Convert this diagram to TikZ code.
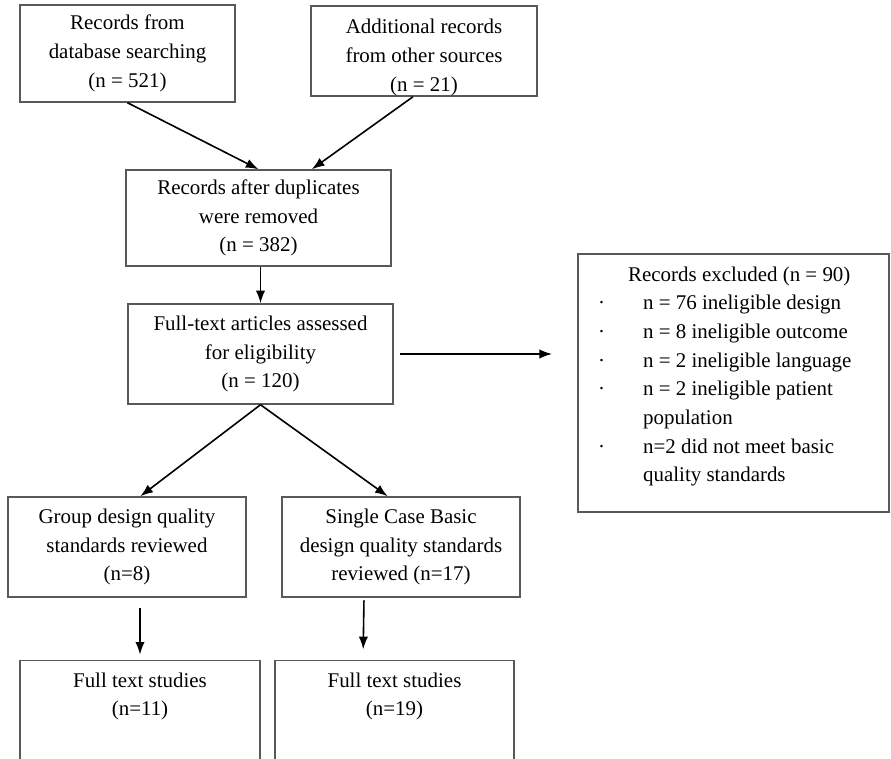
\documentclass[tikz,border=0pt]{standalone}
\usepackage{fontspec}
\setmainfont{Liberation Serif}
\usetikzlibrary{arrows.meta}
\newcommand{\exbul}{\makebox[33.75pt][l]{·}}
\newcommand{\exind}{\hspace*{33.75pt}}
\begin{document}
\begin{tikzpicture}[x=0.75pt,y=-0.75pt,
  box/.style={draw=black!65, line width=1.1pt, align=center, inner sep=0pt},
  arr/.style={-{Latex[length=9.5pt,width=7pt]}, line width=1.2pt},
  font=\fontsize{15.7}{21.5}\selectfont]
\useasboundingbox (0,0) rectangle (891,759);

\node[box, minimum width=161.25pt, minimum height=72.75pt] (db) at (127.5,53.5) {Records from\\database searching\\(n = 521)};
\node[box] (other) at (424,51) {\parbox[c][67.5pt][t]{169.5pt}{\centering\vspace*{10pt}Additional records\\from other sources\\(n = 21)}};

\node[box, minimum width=198.75pt, minimum height=72pt] (dup) at (258.5,218) {Records after duplicates\\were removed\\(n = 382)};
\node[box, minimum width=198.75pt, minimum height=75pt] (full) at (260.5,354) {Full-text articles assessed\\for eligibility\\(n = 120)};

\node[box, inner xsep=15pt] (excl) at (733.5,383) {\parbox[c][193.5pt][t]{203pt}{\raggedright\vspace*{9.5pt}%
\hspace*{22.5pt}Records excluded (n = 90)\\
\exbul n = 76 ineligible design\\
\exbul n = 8 ineligible outcome\\
\exbul n = 2 ineligible language\\
\exbul n = 2 ineligible patient\\
\exind population\\
\exbul n=2 did not meet basic\\
\exind quality standards}};

\node[box, minimum width=178.5pt, minimum height=75pt] (grp) at (127,547) {Group design quality\\standards reviewed\\(n=8)};
\node[box, minimum width=178.5pt, minimum height=75pt] (single) at (401,547) {Single Case Basic\\design quality standards\\reviewed (n=17)};

\node[box, anchor=north, minimum width=180pt, inner ysep=9pt] (ftgrp) at (140,660) {Full text studies\\(n=11)\\[45pt]~};
\node[box, anchor=north, minimum width=179.25pt, inner ysep=9pt] (ftsingle) at (394.5,660) {Full text studies\\(n=19)\\[45pt]~};

\draw[arr] (db.south) -- (dup.north);
\draw[arr] ([xshift=-8.25pt]other.south) -- ([xshift=40pt]dup.north);
\draw[arr] (full.north |- dup.south) -- (full.north);
\draw[arr, shorten <=5pt, shorten >=19pt] (full.east) -- (full.east -| excl.west);
\draw[arr] (full.south) -- ([xshift=10pt]grp.north);
\draw[arr] (full.south) -- ([xshift=-10pt]single.north);
\draw[arr, shorten <=7.5pt, shorten >=4pt] (grp.south -| ftgrp.north) -- (ftgrp.north);
\draw[arr, shorten <=2pt, shorten >=8pt] ([xshift=-27.75pt]single.south) -- ([xshift=-23.6pt]ftsingle.north);
\end{tikzpicture}
\end{document}
